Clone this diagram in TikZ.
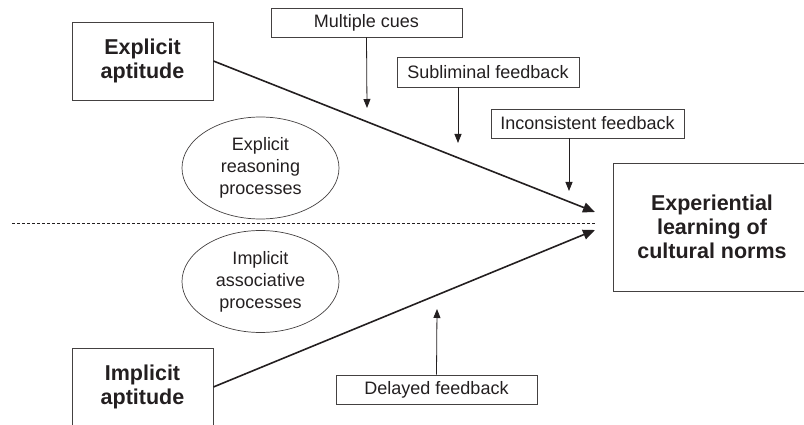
\documentclass[tikz,border=0pt]{standalone}
\usepackage{fontspec}
\setmainfont{Liberation Sans}
\usetikzlibrary{shapes.geometric,arrows.meta}
\definecolor{ink}{HTML}{231F20}
\tikzset{
  bigbox/.style={draw=ink!85, line width=0.8pt, inner sep=0pt, align=center, text=ink,
    font=\fontsize{21.5}{24}\selectfont\bfseries},
  cuebox/.style={draw=ink!85, line width=0.8pt, inner sep=0pt, align=center, text=ink,
    font=\fontsize{18}{22}\selectfont, minimum height=29pt},
  proc/.style={ellipse, draw=ink!85, line width=0.7pt, inner sep=0pt, align=center, text=ink,
    font=\fontsize{18}{22}\selectfont, minimum width=157pt, minimum height=102pt},
  mainarrow/.style={draw=ink, line width=1.6pt, -{Triangle[length=12pt,width=10pt]}},
  cuearrow/.style={draw=ink, line width=0.8pt, -{Triangle[length=9pt,width=7pt]}},
  divider/.style={draw=ink, line width=0.8pt, dash pattern=on 3pt off 2pt}
}
\begin{document}
\begin{tikzpicture}[x=1pt,y=-1pt]
\useasboundingbox (0,0) rectangle (804,425);
\clip (0,0) rectangle (804,425);

% main boxes
\node[bigbox, minimum width=141pt, minimum height=78pt] (ea) at (142.5,61) {Explicit\\aptitude};
\node[bigbox, minimum width=141pt, minimum height=78pt] (ia) at (142.5,387) {Implicit\\aptitude};
\node[bigbox, minimum width=198pt, minimum height=128pt] (el) at (712,227) {Experiential\\learning of\\cultural norms};

% process ellipses
\node[proc] (ep) at (260.5,168) {Explicit\\reasoning\\processes};
\node[proc] (ip) at (260.5,281.5) {Implicit\\associative\\processes};

% cue boxes
\node[cuebox, minimum width=191pt] (mc) at (366.5,22.5) {Multiple cues};
\node[cuebox, minimum width=182pt, minimum height=30pt] (sf) at (488,72) {Subliminal feedback};
\node[cuebox, minimum width=193pt] (if) at (587.5,123.5) {Inconsistent feedback};
\node[cuebox, minimum width=201pt] (df) at (436.5,389.5) {Delayed feedback};

% coordinates
\coordinate (tipE) at (595,212);
\coordinate (tipI) at (595,230);
\coordinate (dashL) at (12,223);
\coordinate (dashR) at (595,223);
\coordinate (mcEnd) at (367,108);
\coordinate (sfStart) at (458,87);
\coordinate (sfEnd) at (458,143);
\coordinate (ifStart) at (569,138);
\coordinate (ifEnd) at (569,191);
\coordinate (dfEnd) at (437,309);

% divider
\draw[divider] (dashL) -- (dashR);

% main arrows
\draw[mainarrow] (ea.east) -- (tipE);
\draw[mainarrow] (ia.east) -- (tipI);

% cue arrows
\draw[cuearrow] (mc.south) -- (mcEnd);
\draw[cuearrow] (sfStart) -- (sfEnd);
\draw[cuearrow] (ifStart) -- (ifEnd);
\draw[cuearrow] (df.north) -- (dfEnd);
\end{tikzpicture}
\end{document}
